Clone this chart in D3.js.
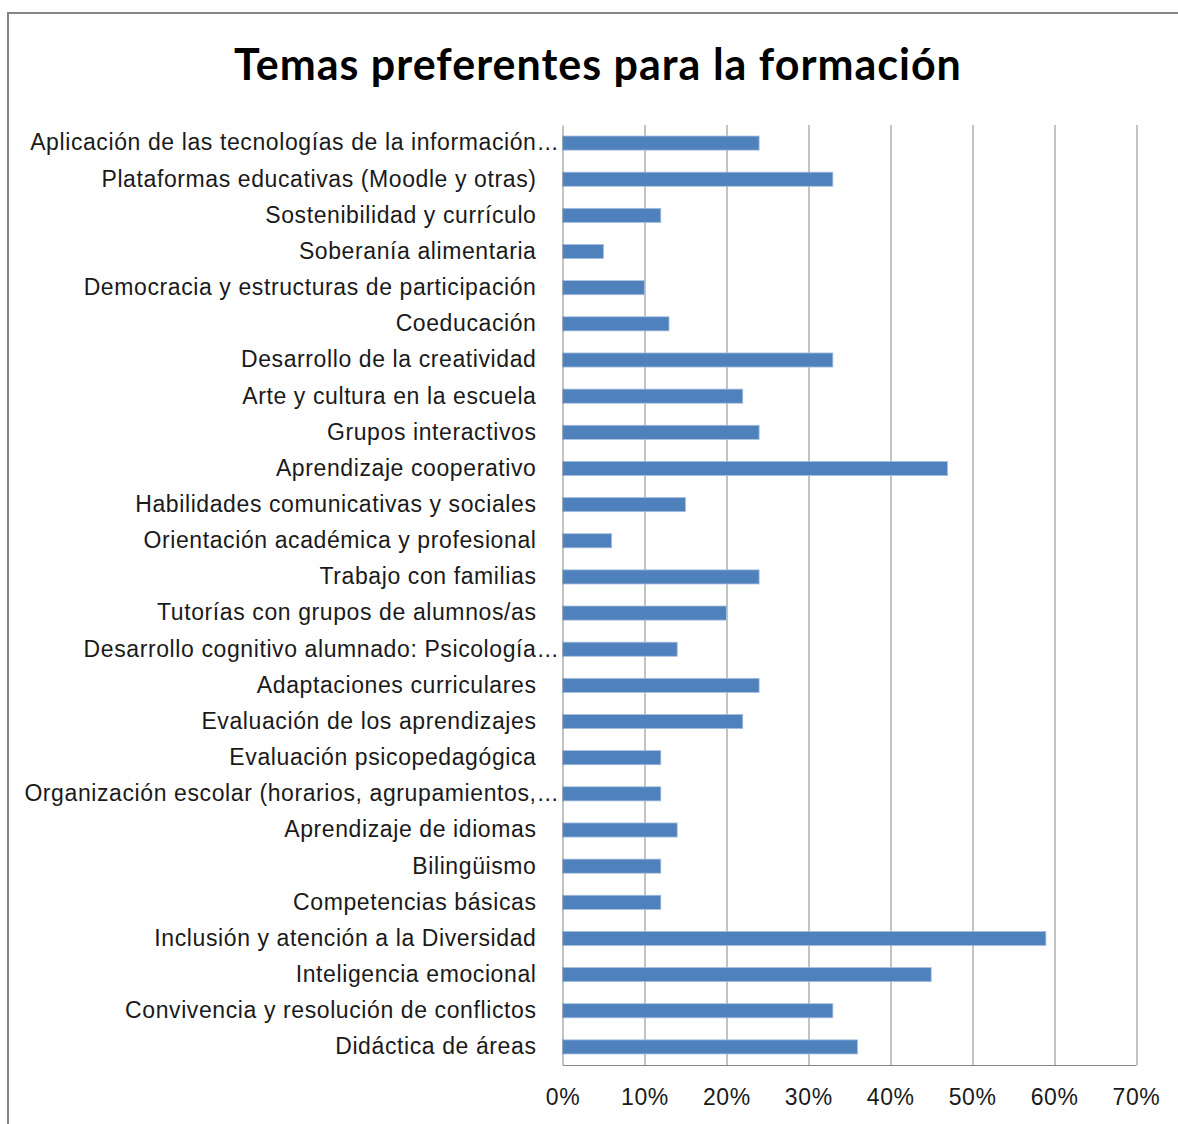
<!DOCTYPE html>
<html>
<head>
<meta charset="utf-8">
<script src="https://cdn.jsdelivr.net/npm/d3@7"></script>
<style>
  body { margin: 0; background: #fff; }
  svg { font-family: Lato, "Open Sans", sans-serif; }
  .labeltext { font-size: 23px; fill: #1a1a1a; letter-spacing: 0.6px; }
  .grid line { stroke: #868686; stroke-width: 1; }
</style>
</head>
<body>
<script>
// categories, top to bottom
var temas = [
  "Aplicación de las tecnologías de la información",
  "Plataformas educativas (Moodle y otras)",
  "Sostenibilidad y currículo",
  "Soberanía alimentaria",
  "Democracia y estructuras de participación",
  "Coeducación",
  "Desarrollo de la creatividad",
  "Arte y cultura en la escuela",
  "Grupos interactivos",
  "Aprendizaje cooperativo",
  "Habilidades comunicativas y sociales",
  "Orientación académica y profesional",
  "Trabajo con familias",
  "Tutorías con grupos de alumnos/as",
  "Desarrollo cognitivo alumnado: Psicología",
  "Adaptaciones curriculares",
  "Evaluación de los aprendizajes",
  "Evaluación psicopedagógica",
  "Organización escolar (horarios, agrupamientos,",
  "Aprendizaje de idiomas",
  "Bilingüismo",
  "Competencias básicas",
  "Inclusión y atención a la Diversidad",
  "Inteligencia emocional",
  "Convivencia y resolución de conflictos",
  "Didáctica de áreas"
];
// labels cut short in the original
var recortados = [
  "Aplicación de las tecnologías de la información",
  "Desarrollo cognitivo alumnado: Psicología",
  "Organización escolar (horarios, agrupamientos,"
];
// share of answers (%)
var porcentajes = [24, 33, 12, 5, 10, 13, 33, 22, 24, 47, 15, 6, 24, 20, 14, 24, 22, 12, 12, 14, 12, 12, 59, 45, 33, 36];
var ticks = [0, 10, 20, 30, 40, 50, 60, 70];

var data = temas.map(function(t, i) { return {tema: t, pct: porcentajes[i]}; });

var W = 1178, H = 1124;
var margin = {top: 125, left: 562.5, right: 40, bottom: 59};
var width = 1136 - margin.left,
    height = 1065 - margin.top;

var svg = d3.select("body").append("svg")
    .attr("width", W)
    .attr("height", H);

// outer chart frame (cut by the picture on the right and bottom)
svg.append("rect")
    .attr("x", 8).attr("y", 13)
    .attr("width", W + 20).attr("height", H + 20)
    .attr("fill", "none")
    .attr("stroke", "#858585")
    .attr("stroke-width", 2);

svg.append("text")
    .attr("x", 598).attr("y", 80)
    .style("text-anchor", "middle")
    .style("font-size", "43px")
    .style("font-weight", "bold")
    .style("letter-spacing", "1px")
    .style("fill", "#000")
    .text("Temas preferentes para la formación");

var g = svg.append("g")
    .attr("transform", "translate(" + margin.left + "," + margin.top + ")");

var x = d3.scaleLinear().domain([0, 70]).range([0, width]);
var y = d3.scaleBand().domain(temas).range([0, height]).paddingInner(0.61).paddingOuter(0.305);

// vertical gridlines
g.append("g")
    .attr("class", "grid")
    .selectAll("line")
    .data(ticks.slice(1))
  .enter().append("line")
    .attr("x1", function(d) { return Math.round(x(d)) + 0.5; })
    .attr("x2", function(d) { return Math.round(x(d)) + 0.5; })
    .attr("y1", 0)
    .attr("y2", height);

// bars
g.selectAll(".bar")
    .data(data)
  .enter().append("rect")
    .attr("class", "bar")
    .attr("x", 0)
    .attr("y", function(d) { return y(d.tema); })
    .attr("width", function(d) { return x(d.pct); })
    .attr("height", y.bandwidth())
    .attr("fill", "#4f81bd")
    .attr("stroke", "#a7c0de")
    .attr("stroke-width", 0.8);

// x axis
var xAxis = g.append("g")
    .attr("transform", "translate(0," + height + ")")
    .call(d3.axisBottom(x).tickValues(ticks).tickSize(0).tickPadding(24)
      .tickFormat(function(d) { return d + "%"; }));
xAxis.select(".domain").attr("stroke", "#868686");
xAxis.selectAll("text").attr("class", "labeltext").attr("font-family", null).attr("font-size", null);

// y axis
var yAxis = g.append("g")
    .call(d3.axisLeft(y).tickSize(0).tickPadding(26));
yAxis.select(".domain").attr("stroke", "#868686");
yAxis.selectAll("text").attr("class", "labeltext").attr("font-family", null).attr("font-size", null);
yAxis.selectAll(".tick").filter(function(d) { return recortados.indexOf(d) >= 0; })
  .append("text")
    .attr("class", "labeltext")
    .attr("x", -25)
    .attr("dy", "0.32em")
    .style("text-anchor", "start")
    .text("...");
</script>
</body>
</html>
